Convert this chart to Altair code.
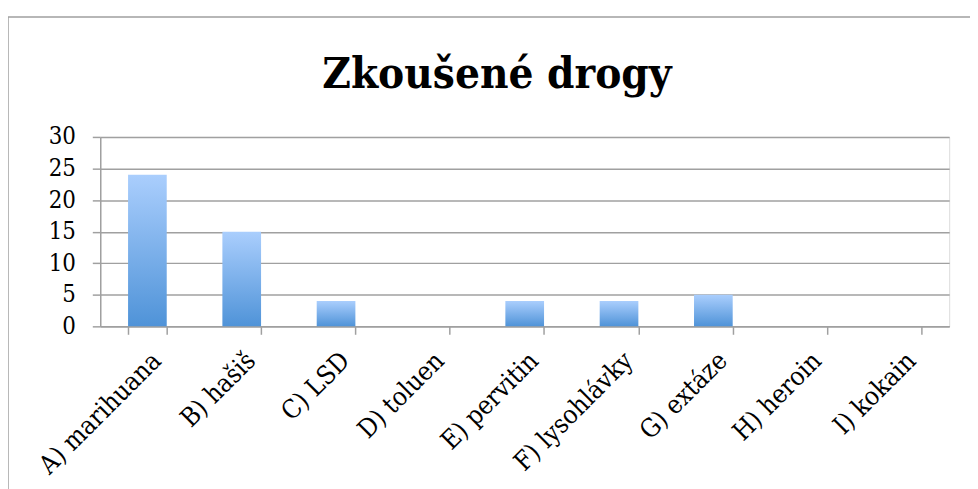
import altair as alt
import pandas as pd

categories = ["A) marihuana", "B) hašiš", "C) LSD", "D) toluen", "E) pervitin",
              "F) lysohlávky", "G) extáze", "H) heroin", "I) kokain"]
counts = [24, 15, 4, 0, 4, 4, 5, 0, 0]
y_ticks = [0, 5, 10, 15, 20, 25, 30]
title_text = "Zkoušené drogy"

df = pd.DataFrame({"drug": categories, "count": counts})
frame_df = pd.DataFrame({"k": [0]})

FONT = "DejaVu Serif Condensed, DejaVu Serif"
GRAY = "#a0a0a0"

grad = alt.Gradient(
    gradient="linear",
    stops=[alt.GradientStop(color="#aacefd", offset=0),
           alt.GradientStop(color="#4f93d8", offset=1)],
    x1=0, x2=0, y1=0, y2=1,
)

frame = alt.Chart(frame_df).mark_rect(
    filled=False, stroke=GRAY, strokeWidth=1.5
).encode(
    x=alt.value(-93), x2=alt.value(885), y=alt.value(-121), y2=alt.value(360)
)

bars = alt.Chart(df).mark_bar(color=grad).encode(
    x=alt.X(
        "drug:N", sort=categories, title=None,
        scale=alt.Scale(paddingInner=0.59, paddingOuter=0.295),
        axis=alt.Axis(
            labelAngle=-45, labelFont=FONT, labelFontSize=26, labelColor="black",
            labelPadding=13, tickBand="extent", tickSize=8, tickColor=GRAY,
            tickWidth=1.5, domainColor=GRAY, domainWidth=1.5, grid=False,
        ),
    ),
    y=alt.Y(
        "count:Q", title=None, scale=alt.Scale(domain=[0, 30]),
        axis=alt.Axis(
            values=y_ticks, labelFont=FONT, labelFontSize=24, labelColor="black",
            labelPadding=17, tickSize=8, tickColor=GRAY, tickWidth=1.5,
            domainColor=GRAY, domainWidth=1.5, gridColor=GRAY, gridWidth=1.5,
        ),
    ),
)

chart = alt.layer(frame, bars).properties(
    width=856, height=191,
    title=alt.TitleParams(
        title_text, font=FONT, fontSize=44, fontWeight="bold", color="black",
        anchor="middle", dx=-28, offset=30, dy=111,
    ),
    autosize=alt.AutoSizeParams(type="none"),
    padding={"left": 93, "top": 128, "right": 21, "bottom": 162},
).configure_view(stroke=None).configure(background="white")

chart.save("out.html", embed_options={"renderer": "svg", "actions": False})
